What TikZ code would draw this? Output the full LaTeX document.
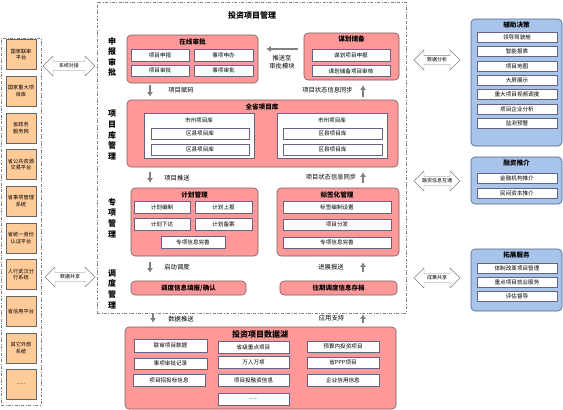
\documentclass[tikz,border=0pt]{standalone}
\usepackage{fontspec}
\setmainfont{Noto Sans CJK SC}
\usetikzlibrary{shapes.arrows,arrows.meta}
\definecolor{boxpink}{RGB}{255,153,153}
\definecolor{boxline}{RGB}{120,90,90}
\definecolor{itemline}{RGB}{100,100,130}
\definecolor{peach}{RGB}{255,204,153}
\definecolor{skyblue}{RGB}{169,196,235}
\definecolor{blueline}{RGB}{80,95,130}

\begin{document}
\begin{tikzpicture}[x=1pt,y=-1pt,
  frame/.style={draw=gray, dash pattern=on 3pt off 1.5pt on 0.8pt off 1.5pt, line width=0.5pt, inner sep=0pt},
  ext/.style={draw=gray!80!black, fill=peach, minimum width=30pt, minimum height=30pt, inner sep=0pt, align=center, font=\fontsize{5.2}{6.8}\selectfont},
  panel/.style={draw=boxline, fill=boxpink, rounded corners=4pt, line width=0.6pt, inner sep=0pt},
  bpanel/.style={draw=blueline, fill=skyblue, rounded corners=4pt, line width=0.6pt, inner sep=0pt},
  item/.style={draw=itemline, fill=white, inner sep=0pt, font=\fontsize{5.6}{6.5}\selectfont},
  ptitle/.style={font=\fontsize{6.6}{7}\selectfont\bfseries},
  sect/.style={align=center, font=\fontsize{8}{10.6}\selectfont\bfseries},
  lbl/.style={font=\fontsize{6.3}{8}\selectfont, align=center},
  garrow/.style={draw=gray, line width=1.4pt, -{Latex[length=4.5pt,width=6pt]}},
  dblarrow/.style={double arrow, draw=gray, fill=white, double arrow head extend=5pt, double arrow tip angle=90, minimum width=20pt, inner sep=1.5pt, font=\fontsize{5}{5}\selectfont},
]
\useasboundingbox (0,0) rectangle (563,410);

% external systems
\node[frame, minimum width=40pt, minimum height=367pt] (extframe) at (21,221.5) {};
\node[ext] (e1) at (21,54.5) {国家联审\\平台};
\node[ext] (e2) at (21,91.2) {国家重大项\\目库};
\node[ext] (e3) at (21,127.8) {省政务\\服务网};
\node[ext] (e4) at (21,164.5) {省公共资源\\交易平台};
\node[ext] (e5) at (21,201.2) {省事项管理\\系统};
\node[ext] (e6) at (21,237.8) {省统一身份\\认证平台};
\node[ext] (e7) at (21,274.5) {人行武汉分\\行系统};
\node[ext] (e8) at (21,311.2) {省信用平台};
\node[ext] (e9) at (21,347.8) {其它外部\\系统};
\node[ext] (e10) at (21,384.5) {......};

\node[dblarrow, minimum height=52pt] (xtdj) at (69,66) {系统对接};
\node[dblarrow, minimum height=50pt] (sjgx) at (70,277) {数据共享};

% main frame
\node[frame, minimum width=309pt, minimum height=311pt] (mainframe) at (251.5,157.5) {};
\node[font=\fontsize{8}{9}\selectfont\bfseries] (maintitle) at (252,15) {投资项目管理};

\node[sect] (s1) at (112,57) {申\\报\\审\\批};
\node[sect] (s2) at (112,135) {项\\目\\库\\管\\理};
\node[sect] (s3) at (112,218) {专\\项\\管\\理};
\node[sect] (s4) at (112,289) {调\\度\\管\\理};

% online approval
\node[panel, minimum width=131pt, minimum height=48pt] (zxsp) at (192.5,59) {};
\node[ptitle] (zxspt) at (192.5,42) {在线审批};
\node[item, minimum width=58pt, minimum height=12pt] (xmsb) at (160,55) {项目申报};
\node[item, minimum width=59pt, minimum height=12pt] (sxsb) at (223.5,55) {事项申办};
\node[item, minimum width=58pt, minimum height=11pt] (xmsp) at (160,70.5) {项目审批};
\node[item, minimum width=59pt, minimum height=11pt] (sxsp) at (223.5,70.5) {事项审批};

% planning reserve
\node[panel, minimum width=95pt, minimum height=47pt] (mhcb) at (351.5,56.5) {};
\node[ptitle] (mhcbt) at (351.5,38.5) {谋划储备};
\node[item, minimum width=78pt, minimum height=12pt] (mhsb) at (351,55) {谋划项目申报};
\node[item, minimum width=78pt, minimum height=11pt] (mhsh) at (351,71) {谋划储备项目审核};

\coordinate (pushy) at (0,49);
\draw[garrow, shorten <=6pt, shorten >=8pt] (mhcb.west |- pushy) -- (zxsp.east |- pushy);
\node[lbl, font=\fontsize{6.3}{8}\selectfont] (pushl) at (282,62) {推送至\\审批模块};

% province project library
\node[panel, minimum width=271pt, minimum height=67pt] (qsk) at (262.5,133.5) {};
\node[ptitle] (qskt) at (262,107) {全省项目库};
\node[draw=itemline, fill=white, minimum width=110pt, minimum height=45pt, inner sep=0pt] (szl) at (199,135.5) {};
\node[item, draw=none, fill=none] (szlt) at (199,120) {市州项目库};
\node[item, minimum width=98pt, minimum height=11pt] (qxl1) at (200,133.5) {区县项目库};
\node[item, minimum width=98pt, minimum height=11pt] (qxl2) at (200,149.5) {区县项目库};
\node[draw=itemline, fill=white, minimum width=110pt, minimum height=45pt, inner sep=0pt] (szr) at (332,135.5) {};
\node[item, draw=none, fill=none] (szrt) at (332,120) {市州项目库};
\node[item, minimum width=99pt, minimum height=11pt] (qxr1) at (332.5,133.5) {区县项目库};
\node[item, minimum width=99pt, minimum height=11pt] (qxr2) at (332.5,149.5) {区县项目库};

% special management
\node[panel, minimum width=127pt, minimum height=68pt] (jhgl) at (194.5,222) {};
\node[ptitle] (jhglt) at (194.5,195) {计划管理};
\node[item, minimum width=56pt, minimum height=12pt] (jhbz) at (162,207) {计划编制};
\node[item, minimum width=57pt, minimum height=12pt] (jhsb) at (223.5,207) {计划上报};
\node[item, minimum width=56pt, minimum height=12pt] (jhxd) at (162,224) {计划下达};
\node[item, minimum width=57pt, minimum height=12pt] (jhba) at (223.5,224) {计划备案};
\node[item, minimum width=64pt, minimum height=12pt] (zxws1) at (193,242) {专项信息完善};

\node[panel, minimum width=122pt, minimum height=68pt] (bqh) at (338,222) {};
\node[ptitle] (bqht) at (337,195) {标签化管理};
\node[item, minimum width=108pt, minimum height=12pt] (bqsz) at (337,207) {标签编制设置};
\node[item, minimum width=108pt, minimum height=11pt] (xmff) at (337,224.5) {项目分发};
\node[item, minimum width=108pt, minimum height=11pt] (zxws2) at (337,242.5) {专项信息完善};

% dispatch
\node[panel, minimum width=115pt, minimum height=14pt, font=\fontsize{6.5}{7}\selectfont\bfseries] (ddtb) at (188.5,288) {调度信息填报/确认};
\node[panel, minimum width=117pt, minimum height=14pt, font=\fontsize{6.5}{7}\selectfont\bfseries] (wqcd) at (338.5,288) {往期调度信息存档};

% data lake
\node[panel, minimum width=271pt, minimum height=82pt] (sjh) at (260.5,368) {};
\node[font=\fontsize{8}{9}\selectfont\bfseries] (sjht) at (260,334) {投资项目数据湖};
\node[item, minimum width=73pt, minimum height=13pt] (d1) at (170.5,345.5) {联审项目数据};
\node[item, minimum width=73pt, minimum height=11pt] (d2) at (170.5,363.5) {事项审批记录};
\node[item, minimum width=72pt, minimum height=12pt] (d3) at (169,380) {项目招投标信息};
\node[item, minimum width=71pt, minimum height=12pt] (d4) at (253.5,347) {省级重点项目};
\node[item, minimum width=71pt, minimum height=12pt] (d5) at (253.5,362) {万人万项};
\node[item, minimum width=71pt, minimum height=12pt] (d6) at (253.5,380) {项目投融资信息};
\node[item, minimum width=71pt, minimum height=12pt] (d7) at (253.5,399) {......};
\node[item, minimum width=72pt, minimum height=11pt] (d8) at (343,346.5) {预算内投资项目};
\node[item, minimum width=72pt, minimum height=11pt] (d9) at (343,362.5) {省PPP项目};
\node[item, minimum width=72pt, minimum height=12pt] (d10) at (343,380) {企业信用信息};

% flow arrows
\coordinate (lx) at (150,0);
\coordinate (lx2) at (153,0);
\coordinate (rx) at (363,0);
\draw[garrow, shorten <=2pt, shorten >=3pt] (zxsp.south -| lx) -- (qsk.north -| lx);
\draw[garrow, shorten <=3pt, shorten >=5pt] (qsk.north -| rx) -- (mhcb.south -| rx);
\draw[garrow, shorten <=5pt, shorten >=5pt] (qsk.south -| lx) -- (jhgl.north -| lx);
\draw[garrow, shorten <=5pt, shorten >=5pt] (bqh.north -| rx) -- (qsk.south -| rx);
\draw[garrow, shorten <=6pt, shorten >=8pt] (jhgl.south -| lx) -- (ddtb.north -| lx);
\draw[garrow, shorten <=9pt, shorten >=6pt] (wqcd.north -| rx) -- (bqh.south -| rx);
\draw[garrow, shorten <=1pt, shorten >=4pt] (mainframe.south -| lx2) -- (sjh.north -| lx2);
\draw[garrow, shorten <=4pt, shorten >=1pt] (sjh.north -| rx) -- (mainframe.south -| rx);

\node[lbl] (l1) at (181,90) {项目赋码};
\node[lbl] (r1) at (327.5,90) {项目状态信息同步};
\node[lbl] (l2) at (177,178) {项目推送};
\node[lbl] (r2) at (331,177) {项目状态信息同步};
\node[lbl] (l3) at (177,267) {启动调度};
\node[lbl] (r3) at (331,267) {进展报送};
\node[lbl] (l4) at (181,319) {数据推送};
\node[lbl] (r4) at (331.5,318) {应用支持};

% right side services
\node[dblarrow, minimum height=46pt] (sjfx) at (437,60) {数据分析};
\node[dblarrow, minimum height=46pt] (rzxx) at (437,181) {融资信息互通};
\node[dblarrow, minimum height=46pt] (cggx) at (437,278) {成果共享};

\node[bpanel, minimum width=91pt, minimum height=127pt] (fzjc) at (516.5,82.5) {};
\node[ptitle] (fzjct) at (516.5,25) {辅助决策};
\node[item, minimum width=80pt, minimum height=10pt] (f1) at (517,37) {领导驾驶舱};
\node[item, minimum width=80pt, minimum height=10pt] (f2) at (517,51) {智能报表};
\node[item, minimum width=80pt, minimum height=10pt] (f3) at (517,66) {项目地图};
\node[item, minimum width=80pt, minimum height=10pt] (f4) at (517,80) {大屏展示};
\node[item, minimum width=80pt, minimum height=10pt] (f5) at (517,94) {重大项目视频调度};
\node[item, minimum width=80pt, minimum height=10pt] (f6) at (517,109) {项目企业分析};
\node[item, minimum width=80pt, minimum height=10pt] (f7) at (517,123) {监测预警};

\node[bpanel, minimum width=91pt, minimum height=47pt] (rztj) at (516.5,180.5) {};
\node[ptitle] (rztjt) at (516.5,163) {融资推介};
\node[item, minimum width=80pt, minimum height=10pt] (r5) at (517,178) {金融机构推介};
\node[item, minimum width=80pt, minimum height=10pt] (r6) at (517,193) {民间资本推介};

\node[bpanel, minimum width=91pt, minimum height=62pt] (tzfw) at (516.5,280) {};
\node[ptitle] (tzfwt) at (516.5,255) {拓展服务};
\node[item, minimum width=80pt, minimum height=10pt] (t1) at (517,268) {体制改革项目管理};
\node[item, minimum width=80pt, minimum height=10pt] (t2) at (517,282) {重点项目就业服务};
\node[item, minimum width=80pt, minimum height=10pt] (t3) at (517,296.5) {评估督导};
\end{tikzpicture}
\end{document}
